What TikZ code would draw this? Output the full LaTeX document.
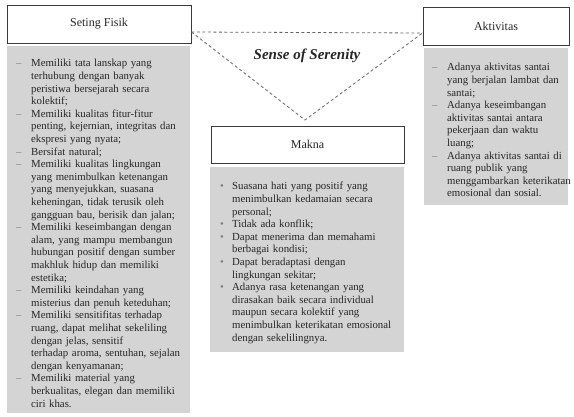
\documentclass[tikz,border=0pt]{standalone}
\usepackage{fontspec}
\setmainfont{Liberation Serif}
\usetikzlibrary{calc}
\definecolor{boxgrey}{HTML}{D4D4D4}
\definecolor{txt}{HTML}{262626}
\definecolor{frame}{HTML}{3A3A3A}
\newcommand{\nl}{\hfil\break}
\newcommand{\itm}[3]{\par\noindent\hangindent=#1\hangafter=1\makebox[#1][l]{#2}#3\par}
\tikzset{
  hdr/.style={draw=frame, line width=0.9pt, fill=white, text=txt, font=\fontsize{12}{14}\selectfont},
  body/.style={fill=boxgrey, draw=none, anchor=north west, inner sep=0pt},
  bodytext/.style={anchor=north west, inner sep=0pt, text=txt, align=left, font=\fontsize{10.8}{12.6}\selectfont},
  link/.style={draw=gray!80!black, line width=0.8pt, dash pattern=on 3pt off 2.5pt},
}
\begin{document}
\begin{tikzpicture}[x=1pt,y=-1pt]
\useasboundingbox (0,0) rectangle (574,416);
% headers
\node[hdr, minimum width=184pt, minimum height=38pt] (sf) at (99,24) {Seting Fisik};
\node[hdr, minimum width=146pt, minimum height=38pt] (akt) at (496,26) {Aktivitas};
\node[hdr, minimum width=193pt, minimum height=37pt] (mak) at (307.5,144.5) {Makna};
% grey bodies
\node[body, minimum width=183pt, minimum height=367pt] (sfb) at (7,46) {};
\node[body, minimum width=144pt, minimum height=157pt] (aktb) at (424,48) {};
\node[body, minimum width=194pt, minimum height=185pt] (makb) at (210,167) {};
% dashed triangle
\coordinate (tl) at ([yshift=-8pt]sf.east);
\coordinate (tr) at ([yshift=-7pt]akt.west);
\coordinate (apex) at (305,120);
\draw[link] (tl) -- (tr);
\draw[link] (tl) -- (apex) -- (tr);
\node[text=txt, font=\fontsize{15}{17}\selectfont\bfseries\itshape] (sos) at (307,56) {Sense of Serenity};
% left body text
\node[bodytext, text width=176pt] (sft) at ([xshift=9pt,yshift=-8pt]sfb.north west) {%
\itm{15pt}{\textcolor{gray}{–}}{Memiliki tata lanskap yang\nl terhubung dengan banyak\nl peristiwa bersejarah secara\nl kolektif;}
\itm{15pt}{\textcolor{gray}{–}}{Memiliki kualitas fitur-fitur\nl penting, kejernian, integritas dan\nl ekspresi yang nyata;}
\itm{15pt}{\textcolor{gray}{–}}{Bersifat natural;}
\itm{15pt}{\textcolor{gray}{–}}{Memiliki kualitas lingkungan\nl yang menimbulkan ketenangan\nl yang menyejukkan, suasana\nl keheningan, tidak terusik oleh\nl gangguan bau, berisik dan jalan;}
\itm{15pt}{\textcolor{gray}{–}}{Memiliki keseimbangan dengan\nl alam, yang mampu membangun\nl hubungan positif dengan sumber\nl makhluk hidup dan memiliki\nl estetika;}
\itm{15pt}{\textcolor{gray}{–}}{Memiliki keindahan yang\nl misterius dan penuh keteduhan;}
\itm{15pt}{\textcolor{gray}{–}}{Memiliki sensitifitas terhadap\nl ruang, dapat melihat sekeliling\nl dengan jelas, sensitif\nl terhadap aroma, sentuhan, sejalan\nl dengan kenyamanan;}
\itm{15pt}{\textcolor{gray}{–}}{Memiliki material yang\nl berkualitas, elegan dan memiliki\nl ciri khas.}};
% Aktivitas body text
\node[bodytext, text width=142pt] (aktt) at ([xshift=8pt,yshift=-10pt]aktb.north west) {%
\itm{15pt}{\textcolor{gray}{–}}{Adanya aktivitas santai\nl yang berjalan lambat dan\nl santai;}
\itm{15pt}{\textcolor{gray}{–}}{Adanya keseimbangan\nl aktivitas santai antara\nl pekerjaan dan waktu\nl luang;}
\itm{15pt}{\textcolor{gray}{–}}{Adanya aktivitas santai di\nl ruang publik yang\nl menggambarkan keterikatan\nl emosional dan sosial.}};
% Makna body text
\node[bodytext, text width=186pt] (makt) at ([xshift=10pt,yshift=-10pt]makb.north west) {%
\itm{12pt}{\textcolor{gray}{•}}{Suasana hati yang positif yang\nl menimbulkan kedamaian secara\nl personal;}
\itm{12pt}{\textcolor{gray}{•}}{Tidak ada konflik;}
\itm{12pt}{\textcolor{gray}{•}}{Dapat menerima dan memahami\nl berbagai kondisi;}
\itm{12pt}{\textcolor{gray}{•}}{Dapat beradaptasi dengan\nl lingkungan sekitar;}
\itm{12pt}{\textcolor{gray}{•}}{Adanya rasa ketenangan yang\nl dirasakan baik secara individual\nl maupun secara kolektif yang\nl menimbulkan keterikatan emosional\nl dengan sekelilingnya.}};
\end{tikzpicture}
\end{document}
